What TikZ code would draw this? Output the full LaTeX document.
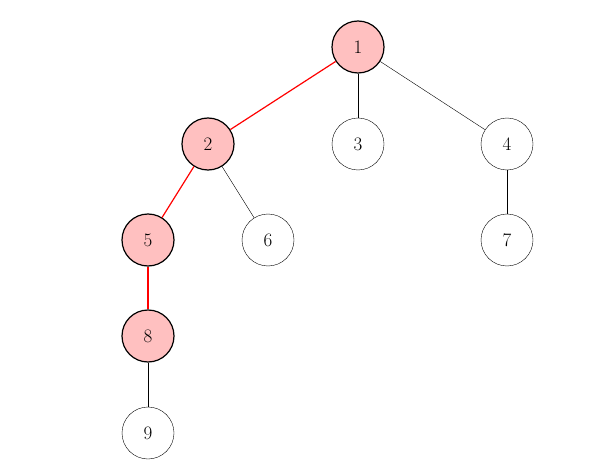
\documentclass[tikz,border=0pt]{standalone}
\usepackage{xcolor}
\definecolor{hlfill}{RGB}{255,192,192}
\begin{document}
\begin{tikzpicture}[x=1pt, y=-1pt,
  vtx/.style={circle, draw, thin, minimum size=52pt, inner sep=0pt, font=\fontsize{19}{22}\selectfont},
  onpath/.style={vtx, very thick, fill=hlfill},
  pathedge/.style={red, very thick}]

  \useasboundingbox (0,0) rectangle (616,476);

  % Nodes
  \node (n1) [onpath] at (358,47) {1};
  \node (n2) [onpath] at (208,144) {2};
  \node (n3) [vtx] at (358,144) {3};
  \node (n4) [vtx] at (507,144) {4};
  \node (n5) [onpath] at (148,240) {5};
  \node (n6) [vtx] at (268,240) {6};
  \node (n7) [vtx] at (507,240) {7};
  \node (n8) [onpath] at (148,336) {8};
  \node (n9) [vtx] at (148,433) {9};

  % Edges
  \draw (n1) -- (n3);
  \draw (n1) -- (n4);
  \draw (n2) -- (n6);
  \draw (n4) -- (n7);
  \draw (n8) -- (n9);
  \draw[pathedge] (n1) -- (n2);
  \draw[pathedge] (n2) -- (n5);
  \draw[pathedge] (n5) -- (n8);

\end{tikzpicture}
\end{document}
